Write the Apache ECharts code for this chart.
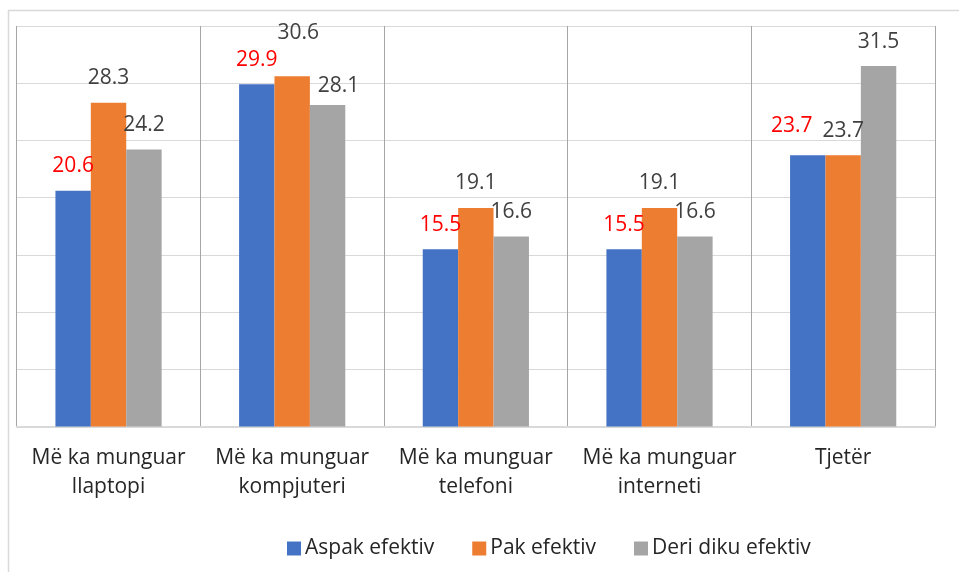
<!DOCTYPE html>
<html>
<head>
<meta charset="utf-8">
<script src="https://cdn.jsdelivr.net/npm/echarts@6/dist/echarts.min.js"></script>
<style>
  html, body { margin: 0; padding: 0; background: #fff; }
  #main { width: 959px; height: 572px; }
</style>
</head>
<body>
<div id="main"></div>
<script>
// categories (wrapped like in the original)
const categories = [
    'Më ka munguar\nllaptopi',
    'Më ka munguar\nkompjuteri',
    'Më ka munguar\ntelefoni',
    'Më ka munguar\ninterneti',
    'Tjetër'
];
const seriesNames = ['Aspak efektiv', 'Pak efektiv', 'Deri diku efektiv'];
const aspakData = [20.6, 29.9, 15.5, 15.5, 23.7];
const pakData = [28.3, 30.6, 19.1, 19.1, 23.7];
const deriDikuData = [24.2, 28.1, 16.6, 16.6, 31.5];

const COLORS = ['#4472C4', '#ED7D31', '#A5A5A5'];
const LABEL_COLORS = ['#FF0000', '#404040', '#404040'];
const FONT = 'Open Sans';

// labels that were dragged by hand in the original: [series][category] -> [dx, dy]
const labelMoves = {
    '1-1': [6, -19],
    '2-1': [11, 6],
    '0-4': [-16, -5]
};

function makeSeries(idx, values) {
    return {
        name: seriesNames[idx],
        type: 'bar',
        barWidth: 35.4,
        barGap: '0%',
        itemStyle: { color: COLORS[idx] },
        label: {
            show: true,
            position: 'top',
            distance: 14,
            color: LABEL_COLORS[idx],
            fontFamily: FONT,
            fontSize: 21
        },
        data: values.map((v, i) => {
            let mv = labelMoves[idx + '-' + i];
            if (!mv) return v;
            return { value: v, label: { offset: mv } };
        })
    };
}

var myChart = echarts.init(document.getElementById('main'));
let option = {
    animation: false,
    backgroundColor: '#fff',
    graphic: [{
        type: 'rect',
        shape: { x: 8.5, y: 10.5, width: 1000, height: 1000 },
        style: { fill: 'none', stroke: '#d9d9d9', lineWidth: 1.5 },
        silent: true
    }],
    legend: {
        data: seriesNames,
        left: 282,
        top: 533,
        itemWidth: 14,
        itemHeight: 14,
        itemGap: 38,
        icon: 'rect',
        textStyle: {
            color: '#262626',
            fontFamily: FONT,
            fontSize: 21,
            padding: [0, 0, 0, -1]
        }
    },
    grid: {
        left: 16.7,
        right: 24,
        top: 26,
        bottom: 145.5,
        containLabel: false
    },
    xAxis: {
        type: 'category',
        data: categories,
        boundaryGap: true,
        axisLine: { lineStyle: { color: '#d9d9d9', width: 2 } },
        axisTick: { show: false },
        splitLine: {
            show: true,
            interval: 0,
            lineStyle: { color: '#a6a6a6', width: 1 }
        },
        axisLabel: {
            interval: 0,
            margin: 17,
            color: '#262626',
            fontFamily: FONT,
            fontSize: 21,
            lineHeight: 29
        }
    },
    yAxis: {
        type: 'value',
        min: 0,
        max: 35,
        interval: 5,
        axisLabel: { show: false },
        axisLine: { show: false },
        axisTick: { show: false },
        splitLine: { lineStyle: { color: '#d9d9d9', width: 1 } }
    },
    series: [
        makeSeries(0, aspakData),
        makeSeries(1, pakData),
        makeSeries(2, deriDikuData)
    ]
};
myChart.setOption(option);
</script>
</body>
</html>
